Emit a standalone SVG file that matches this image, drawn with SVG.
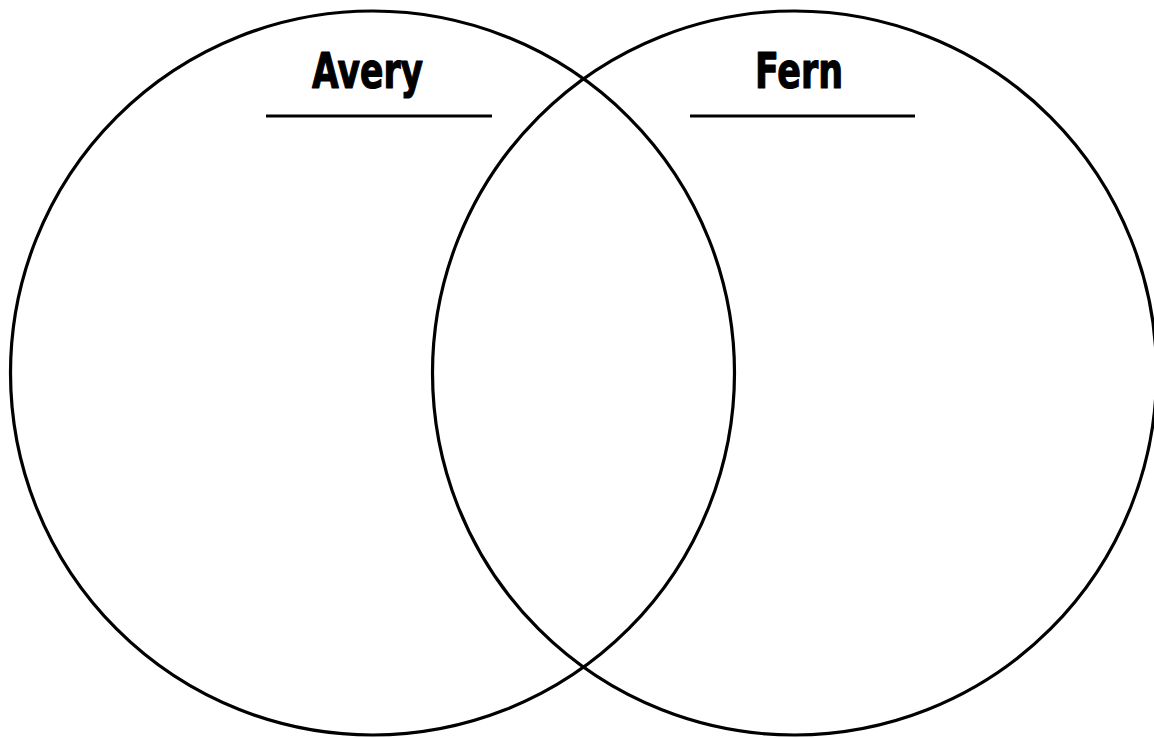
<svg xmlns="http://www.w3.org/2000/svg" width="1154" height="738" viewBox="0 0 1154 738">
  <style>
    .ring { fill: none; stroke: #000; stroke-width: 3.2; }
    .rule { stroke: #000; stroke-width: 3; }
    .title { font-family: "DejaVu Sans Condensed", "Liberation Sans", Arial, sans-serif; font-weight: bold; font-stretch: condensed; font-size: 50px; fill: #000; stroke: #000; stroke-width: 1.2; stroke-linejoin: round; }
  </style>
  <rect width="1154" height="738" fill="#fff"/>
  <g id="set-avery">
    <circle class="ring" cx="372.5" cy="373" r="362"/>
    <text class="title" x="312" y="88" textLength="111" lengthAdjust="spacingAndGlyphs">Avery</text>
    <line class="rule" x1="266" y1="116" x2="492" y2="116"/>
  </g>
  <g id="set-fern">
    <circle class="ring" cx="794.5" cy="373" r="362"/>
    <text class="title" x="755" y="88" textLength="88" lengthAdjust="spacingAndGlyphs">Fern</text>
    <line class="rule" x1="690" y1="116" x2="915" y2="116"/>
  </g>
  <g id="connectors"></g>
</svg>
